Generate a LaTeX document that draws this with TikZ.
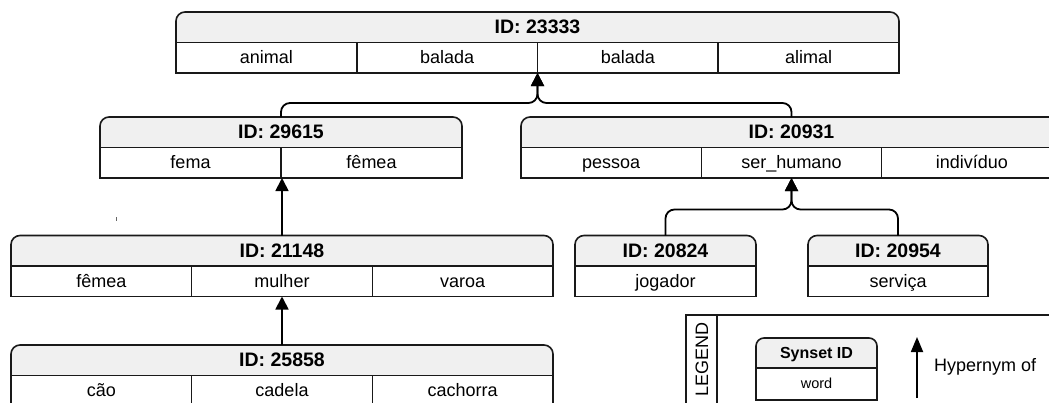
\documentclass[tikz,border=0pt]{standalone}
\usepackage{fontspec}
\setmainfont{Liberation Sans}
\usetikzlibrary{arrows.meta}
\tikzset{
  boxline/.style={draw=black!90, line width=1.6pt},
  hdr/.style={fill=black!6},
  titletext/.style={font=\bfseries\fontsize{19.5}{21}\selectfont, text height=13.5pt, text depth=1pt, inner sep=0pt},
  wordtext/.style={font=\fontsize{18}{20}\selectfont, text height=13pt, text depth=1pt, inner sep=0pt},
  frame/.style={inner sep=0pt, outer sep=0pt, draw=none},
  conn/.style={draw=black, line width=1.8pt, rounded corners=9pt, -{Triangle[length=13pt,width=13pt]}},
}
% #1 name, #2 left x, #3 top y, #4 right x, #5 title, #6 number of cells, #7 words
\newcommand{\synset}[7]{%
  \pgfmathsetmacro\sxc{(#2+#4)/2}%
  \pgfmathsetmacro\sbw{#4-#2}%
  \pgfmathsetmacro\scw{(#4-#2)/#6}%
  \draw[boxline, hdr, rounded corners=9pt] (#2,#3) rectangle (#4,#3+40);
  \draw[boxline, fill=white] (#2,#3+30.5) rectangle (#4,#3+61);
  \node[frame, minimum width=\sbw pt, minimum height=61pt] (#1) at (\sxc,#3+30.5) {};
  \node[titletext] (#1-t) at (\sxc,#3+15.25) {#5};
  \foreach \w [count=\i] in {#7} {
    \pgfmathsetmacro\cellL{#2+(\i-1)*\scw}
    \pgfmathsetmacro\cellR{#2+\i*\scw}
    \pgfmathsetmacro\cellM{(\cellL+\cellR)/2}
    \node[wordtext] (#1-\i) at (\cellM,#3+45.75) {\w};
    \ifnum\i<#6 \draw[boxline] (\cellR,#3+30.5) -- (\cellR,#3+61);\fi
  }
}
\begin{document}
\begin{tikzpicture}[x=1pt,y=-1pt]
\useasboundingbox (0,0) rectangle (1049,402);
\clip (0,0) rectangle (1049,402);

\synset{n23333}{176}{12}{899}{ID: 23333}{4}{animal,balada,balada,alimal}
\synset{n29615}{100}{117}{462}{ID: 29615}{2}{fema,fêmea}
\synset{n20931}{521}{117}{1062}{ID: 20931}{3}{pessoa,ser\_humano,indivíduo}
\synset{n21148}{11}{235.5}{553}{ID: 21148}{3}{fêmea,mulher,varoa}
\synset{n20824}{575}{235.5}{756}{ID: 20824}{1}{jogador}
\synset{n20954}{808}{235.5}{988}{ID: 20954}{1}{serviça}
\synset{n25858}{11}{345}{553}{ID: 25858}{3}{cão,cadela,cachorra}

\draw[conn] (n29615.north) -- ++(0,-14) -| (n23333.south);
\draw[conn] (n20931.north) -- ++(0,-14) -| (n23333.south);
\draw[conn] (n21148.north) -- (n21148.north |- n29615.south);
\draw[conn] (n25858.north) -- (n25858.north |- n21148.south);
\draw[conn] (n20824.north) -- ++(0,-26) -| (n20931.south);
\draw[conn] (n20954.north) -- ++(0,-26) -| (n20931.south);

% stray tick
\draw[black!60, line width=0.8pt] (116.5,217) -- (116.5,221);

% legend
\draw[boxline] (1060,315) -- (686,315) -- (686,410);
\draw[boxline] (717,315) -- (717,410);
\node[rotate=90, font=\fontsize{18}{20}\selectfont, text height=13pt, text depth=1pt, inner sep=0pt] (legend) at (702,359.5) {LEGEND};
\draw[boxline, hdr, rounded corners=8pt] (756,338) rectangle (877,378);
\draw[boxline, fill=white] (756,368) rectangle (877,400);
\node[frame, minimum width=121pt, minimum height=62pt] (leg) at (816.5,369) {};
\node[font=\bfseries\fontsize{16}{18}\selectfont, text height=11.5pt, text depth=1pt, inner sep=0pt] (leg-t) at (816.5,353) {Synset ID};
\node[font=\fontsize{14.5}{16}\selectfont, text height=10.5pt, text depth=1pt, inner sep=0pt] (leg-1) at (816.5,383.5) {word};
\coordinate (legA) at (917,398);
\coordinate (legB) at (917,337);
\draw[draw=black, line width=1.8pt, -{Triangle[length=15pt,width=12pt]}] (legA) -- (legB);
\node[anchor=west, font=\fontsize{18}{20}\selectfont, text height=13pt, text depth=1pt, inner sep=0pt] (hyp) at (934,365) {Hypernym of};
\end{tikzpicture}
\end{document}
